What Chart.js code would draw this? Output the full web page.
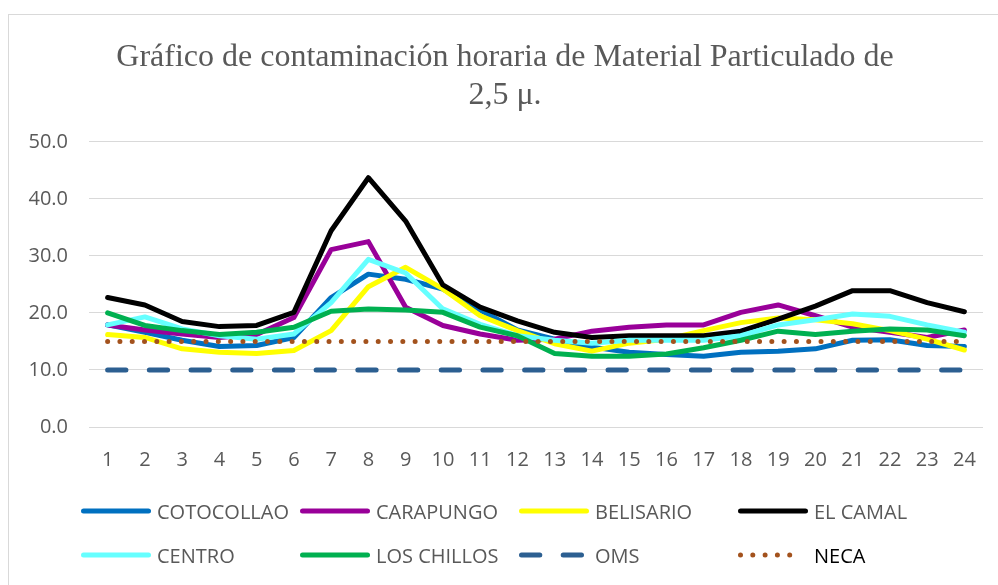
<!DOCTYPE html>
<html lang="es">
<head>
<meta charset="utf-8">
<title>Material Particulado 2,5</title>
<script src="https://cdn.jsdelivr.net/npm/chart.js@4.4.1/dist/chart.umd.min.js"></script>
<style>
  html, body { margin: 0; padding: 0; background: #fff; overflow: hidden; }
  #wrap { position: relative; width: 998px; height: 585px; }
  #frame {
    position: absolute; left: 8px; top: 14px; width: 1100px; height: 700px;
    border: 1px solid #d9d9d9; box-sizing: border-box;
  }
  #chart { position: absolute; left: 0; top: 0; }
  #legend { position: absolute; left: 0; top: 0; width: 998px; height: 585px; pointer-events: none; }
  .item {
    position: absolute; display: flex; align-items: center; height: 30px;
    font: 20px "Open Sans", sans-serif; color: #595959; white-space: nowrap;
  }
  .item svg { margin-right: 6px; }
</style>
</head>
<body>
<div id="wrap">
  <div id="frame"></div>
  <canvas id="chart" width="998" height="585"></canvas>
  <div id="legend"></div>
</div>
<script>
// horas del día (eje X)
const hours = ['1', '2', '3', '4', '5', '6', '7', '8', '9', '10', '11', '12',
  '13', '14', '15', '16', '17', '18', '19', '20', '21', '22', '23', '24'];

// PM 2,5 por estación (µg/m3)
const cotocollao = [17.9, 16.6, 15.2, 14.1, 14.3, 15.7, 22.7, 26.8, 25.9, 24.2, 20.5, 17.0,
  15.4, 14.0, 13.1, 12.7, 12.4, 13.1, 13.3, 13.7, 15.2, 15.3, 14.3, 14.1];
const carapungo = [17.9, 17.0, 16.3, 15.7, 16.2, 19.2, 31.1, 32.5, 21.0, 17.8, 16.3, 15.2,
  15.4, 16.8, 17.5, 17.9, 17.9, 20.1, 21.4, 19.5, 17.5, 16.6, 15.7, 17.0];
const belisario = [16.2, 15.7, 13.7, 13.1, 12.9, 13.4, 16.9, 24.6, 28.0, 24.2, 19.5, 16.9,
  14.6, 13.3, 14.7, 15.4, 16.9, 18.3, 19.1, 18.8, 18.1, 16.9, 15.4, 13.5];
const elCamal = [22.7, 21.4, 18.5, 17.6, 17.8, 20.1, 34.4, 43.7, 36.1, 24.9, 21.0, 18.6,
  16.6, 15.7, 16.0, 16.0, 16.0, 16.8, 18.9, 21.2, 23.9, 23.9, 21.8, 20.2];
const centro = [17.9, 19.3, 17.2, 16.0, 15.4, 16.3, 21.8, 29.4, 27.0, 20.7, 18.0, 16.0,
  15.2, 14.7, 15.2, 15.2, 15.2, 16.0, 17.9, 18.8, 19.8, 19.4, 17.9, 16.6];
const losChillos = [20.0, 17.8, 16.9, 16.2, 16.6, 17.5, 20.3, 20.7, 20.5, 20.1, 17.5, 16.0,
  12.9, 12.4, 12.4, 12.8, 13.9, 15.2, 16.8, 16.2, 16.8, 17.2, 17.0, 16.0];

// límites normativos
const oms = [10, 10, 10, 10, 10, 10, 10, 10, 10, 10, 10, 10,
  10, 10, 10, 10, 10, 10, 10, 10, 10, 10, 10, 10];
const neca = [15, 15, 15, 15, 15, 15, 15, 15, 15, 15, 15, 15,
  15, 15, 15, 15, 15, 15, 15, 15, 15, 15, 15, 15];

const yTicks = [0, 10, 20, 30, 40, 50];

const GREY = '#595959';

function serie(label, data, color, dash) {
  return {
    label,
    data,
    borderColor: color,
    backgroundColor: color,
    borderWidth: 5,
    borderDash: dash || [],
    borderCapStyle: 'round',
    borderJoinStyle: 'round',
    pointRadius: 0,
    tension: 0,
    fill: false
  };
}

const datasets = [
  serie('COTOCOLLAO', cotocollao, '#0070c0'),
  serie('CARAPUNGO', carapungo, '#990099'),
  serie('BELISARIO', belisario, '#ffff00'),
  serie('EL CAMAL', elCamal, '#000000'),
  serie('CENTRO', centro, '#66ffff'),
  serie('LOS CHILLOS', losChillos, '#00b050'),
  serie('OMS', oms, '#2c5f91', [18.3, 23.4]),
  serie('NECA', neca, '#a3521d', [0, 12.3])
];
// como en Excel: la última serie queda encima
datasets.forEach((ds, i) => { ds.order = datasets.length - i; });

const chart = new Chart(document.getElementById('chart'), {
  type: 'line',
  data: { labels: hours, datasets },
  options: {
    responsive: false,
    animation: false,
    devicePixelRatio: 1,
    layout: { padding: { left: 27, right: 15, top: 0, bottom: 118 } },
    plugins: {
      legend: { display: false },
      tooltip: { enabled: false },
      title: {
        display: true,
        text: ['Gráfico de contaminación horaria de Material Particulado de', '2,5 μ.'],
        color: GREY,
        font: { family: '"Liberation Serif", "Times New Roman", serif', size: 32, weight: 'normal', lineHeight: 1.2 },
        padding: { top: 38, bottom: 27 }
      }
    },
    scales: {
      x: {
        offset: true,
        grid: { display: false },
        border: { display: false },
        afterFit: (axis) => { axis.height = 40; },
        ticks: { color: GREY, padding: 13, maxRotation: 0, font: { family: '"Open Sans", sans-serif', size: 20 } }
      },
      y: {
        min: 0,
        max: 50,
        afterBuildTicks: (axis) => { axis.ticks = yTicks.map((v) => ({ value: v })); },
        afterFit: (axis) => { axis.width = 62; },
        grid: { color: '#d9d9d9', lineWidth: 1, drawTicks: false },
        border: { display: false },
        ticks: {
          color: GREY,
          padding: 21,
          font: { family: '"Open Sans", sans-serif', size: 20 },
          callback: (v) => Number(v).toFixed(1)
        }
      }
    }
  }
});

// leyenda en dos filas, columnas fijas como en el original
const legendCols = [81, 300, 519, 738];
const legendRows = [511, 555];
const legendBox = document.getElementById('legend');
chart.data.datasets.forEach((ds, i) => {
  const item = document.createElement('div');
  item.className = 'item';
  item.style.left = legendCols[i % 4] + 'px';
  item.style.top = (legendRows[Math.floor(i / 4)] - 15) + 'px';
  const dash = ds.borderDash.length ? `stroke-dasharray="${ds.borderDash.join(' ')}"` : '';
  const x2 = ds.label === 'NECA' ? 55 : 67.5;
  item.innerHTML =
    `<svg width="70" height="10"><line x1="2.5" y1="5" x2="${x2}" y2="5" stroke="${ds.borderColor}" ` +
    `stroke-width="5" stroke-linecap="round" ${dash}/></svg><span>${ds.label}</span>`;
  if (ds.label === 'NECA') {
    item.querySelector('span').style.color = '#000';
  }
  legendBox.appendChild(item);
});
</script>
</body>
</html>
